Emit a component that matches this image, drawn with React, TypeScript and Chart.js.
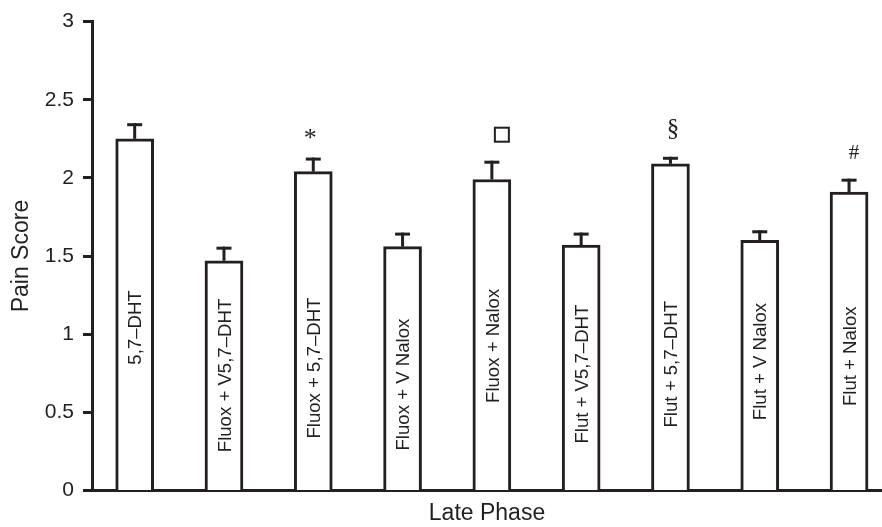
import React, { useEffect, useRef } from 'react';
import { Chart, registerables } from 'chart.js';

Chart.register(...registerables);

// ---- data ----
const categories = [
  '5,7\u2013DHT',
  'Fluox + V5,7\u2013DHT',
  'Fluox + 5,7\u2013DHT',
  'Fluox + V Nalox',
  'Fluox + Nalox',
  'Flut + V5,7\u2013DHT',
  'Flut + 5,7\u2013DHT',
  'Flut + V Nalox',
  'Flut + Nalox',
];
const means = [2.25, 1.47, 2.04, 1.56, 1.99, 1.57, 2.09, 1.6, 1.91];
const errors = [0.1, 0.09, 0.09, 0.09, 0.12, 0.08, 0.045, 0.065, 0.085];
const markers = ['', '', '*', '', '\u25A1', '', '\u00A7', '', '#'];
const yTicks = [0, 0.5, 1, 1.5, 2, 2.5, 3];
const yTickLabels = ['0', '0.5', '1', '1.5', '2', '2.5', '3'];
const xTitle = 'Late Phase';
const yTitle = 'Pain Score';

// ---- layout / style (not data) ----
const labelStart = [0.805, 0.245, 0.332, 0.256, 0.56, 0.3, 0.403, 0.45, 0.54];
const INK = '#231f20';
const SANS = '"Liberation Sans", Arial, Helvetica, sans-serif';
const SERIF = '"Liberation Serif", "Times New Roman", serif';
const markerStyle: Record<string, { size: number; dx: number; dy: number }> = {
  '*': { size: 26, dx: -3, dy: -12 },
  '\u00A7': { size: 25, dx: 2.5, dy: -21 },
  '#': { size: 21, dx: 5, dy: -20 },
  '\u25A1': { size: 14, dx: 10, dy: -26 },
};

const overlay = {
  id: 'overlay',
  afterDatasetsDraw(chart: any) {
    const ctx = chart.ctx as CanvasRenderingContext2D;
    const meta = chart.getDatasetMeta(0);
    const ys = chart.scales.y;
    ctx.save();
    meta.data.forEach((bar: any, i: number) => {
      const x = bar.x;
      const top = ys.getPixelForValue(means[i]);
      const capY = ys.getPixelForValue(means[i] + errors[i]);
      // error bar
      ctx.strokeStyle = INK;
      ctx.lineWidth = 3;
      ctx.lineCap = 'butt';
      ctx.beginPath();
      ctx.moveTo(x, top);
      ctx.lineTo(x, capY);
      ctx.stroke();
      ctx.beginPath();
      ctx.moveTo(x - 7.5, capY + 1.5);
      ctx.lineTo(x + 7.5, capY + 1.5);
      ctx.stroke();

      // label inside the bar
      ctx.save();
      ctx.translate(x + 6.7, ys.getPixelForValue(labelStart[i]));
      ctx.rotate(-Math.PI / 2);
      ctx.fillStyle = INK;
      ctx.font = `18.6px ${SANS}`;
      ctx.textAlign = 'left';
      ctx.textBaseline = 'alphabetic';
      ctx.fillText(categories[i], 0, 0);
      ctx.restore();

      // significance marker
      const m = markers[i];
      if (m) {
        const st = markerStyle[m];
        if (m === '\u25A1') {
          ctx.lineWidth = 2;
          const cy = capY + st.dy;
          ctx.strokeRect(x + st.dx - st.size / 2, cy - st.size / 2, st.size, st.size);
        } else {
          ctx.fillStyle = INK;
          ctx.font = `${st.size}px ${SERIF}`;
          ctx.textAlign = 'center';
          ctx.textBaseline = 'alphabetic';
          ctx.fillText(m, x + st.dx, capY + st.dy);
        }
      }
    });
    ctx.restore();
  },
};

export default function App() {
  const canvasRef = useRef<HTMLCanvasElement | null>(null);

  useEffect(() => {
    const canvas = canvasRef.current;
    if (!canvas) return;
    const chart = new Chart(canvas, {
      type: 'bar',
      data: {
        datasets: [
          {
            data: means.map((v, i) => ({ x: i, y: v })) as any,
            backgroundColor: '#ffffff',
            borderColor: INK,
            borderWidth: 3,
            borderSkipped: 'start',
            barThickness: 38,
          },
        ],
      },
      options: {
        animation: false,
        responsive: false,
        devicePixelRatio: 1,
        layout: { padding: { top: 16, right: 0, bottom: 0, left: 0 } },
        plugins: { legend: { display: false }, tooltip: { enabled: false } },
        scales: {
          x: {
            type: 'linear',
            min: -0.478,
            max: 8.369,
            offset: false,
            grid: { display: false },
            ticks: { display: false },
            border: { display: true, color: INK, width: 3 },
            title: {
              display: true,
              text: xTitle,
              color: INK,
              font: { family: SANS, size: 23 },
              padding: { top: 0, bottom: 0 },
            },
            afterFit: (s: any) => {
              s.height = 36.5;
            },
          },
          y: {
            min: 0,
            max: 3,
            afterBuildTicks: (s: any) => {
              s.ticks = yTicks.map((v) => ({ value: v }));
            },
            ticks: {
              padding: 9,
              color: INK,
              font: { family: SANS, size: 21 },
              callback: (_v: any, idx: number) => yTickLabels[idx],
            },
            grid: {
              drawOnChartArea: false,
              drawTicks: true,
              tickLength: 9,
              tickWidth: 3,
              tickColor: INK,
              color: INK,
            },
            border: { display: true, color: INK, width: 3 },
            title: {
              display: true,
              text: yTitle,
              color: INK,
              font: { family: SANS, size: 23 },
              padding: { top: 8, bottom: 0 },
            },
            afterFit: (s: any) => {
              s.width = 92;
            },
          },
        },
      } as any,
      plugins: [overlay],
    });
    return () => chart.destroy();
  }, []);

  return (
    <div style={{ position: 'fixed', left: 0, top: 0, width: 882, height: 527, background: '#fff' }}>
      <canvas ref={canvasRef} width={882} height={527} style={{ display: 'block' }} />
    </div>
  );
}
